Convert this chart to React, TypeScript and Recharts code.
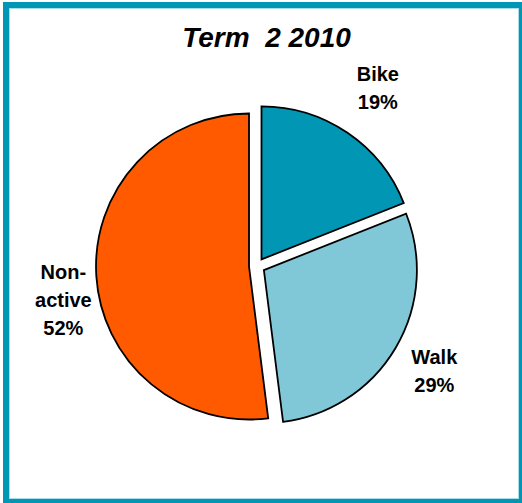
import { PieChart, Pie, Cell, Sector } from 'recharts';

// Term 2 2010 travel mode split
const modes = ['Bike', 'Walk', 'Non-active'];
const shares = [19, 29, 52];
const colors = ['#0096B4', '#80C8D8', '#FF5A00'];

// label placement (distance from pie centre, extra vertical nudge)
const labelRadius = [215, 206, 194];
const labelNudge = [0, 0, 22];

const EXPLODE = 8;
const RAD = Math.PI / 180;

const data = modes.map((name, i) => ({ name, value: shares[i] }));

const ExplodedSlice = (props: any) => {
  const { cx, cy, midAngle, innerRadius, outerRadius, startAngle, endAngle, fill } = props;
  const dx = EXPLODE * Math.cos(-midAngle * RAD);
  const dy = EXPLODE * Math.sin(-midAngle * RAD);
  return (
    <Sector
      cx={cx + dx}
      cy={cy + dy}
      innerRadius={innerRadius}
      outerRadius={outerRadius}
      startAngle={startAngle}
      endAngle={endAngle}
      fill={fill}
      stroke="#000"
      strokeWidth={1.8}
    />
  );
};

const renderLabel = (props: any) => {
  const { cx, cy, midAngle, index, name, value } = props;
  const r = labelRadius[index];
  const x = cx + r * Math.cos(-midAngle * RAD);
  const y = cy + r * Math.sin(-midAngle * RAD) + labelNudge[index];
  const lines = [...String(name).replace('-', '-\n').split('\n'), `${value}%`];
  const lh = 28;
  const top = y - ((lines.length - 1) * lh) / 2 + 7;
  return (
    <text
      x={x}
      y={top}
      textAnchor="middle"
      fill="#000"
      style={{ fontFamily: '"Liberation Sans", Arial, sans-serif', fontWeight: 700, fontSize: 20 }}
    >
      {lines.map((t, i) => (
        <tspan key={i} x={x} y={top + i * lh}>
          {t}
        </tspan>
      ))}
    </text>
  );
};

export default function App() {
  return (
    <div style={{ position: 'absolute', left: 0, top: 0, width: 522, height: 503, background: '#fff', overflow: 'hidden' }}>
      <div
        style={{
          position: 'absolute',
          left: 3,
          top: 2,
          width: 522,
          height: 503,
          boxSizing: 'border-box',
          border: '6px solid #0096B4',
          boxShadow: 'inset 0 0 0 1px #A8DDEA',
        }}
      />
      <div
        style={{
          position: 'absolute',
          left: 0,
          top: 22,
          width: 533,
          textAlign: 'center',
          fontFamily: '"Liberation Sans", Arial, sans-serif',
          fontWeight: 700,
          fontStyle: 'italic',
          fontSize: 28,
          lineHeight: '32px',
          whiteSpace: 'pre',
          color: '#000',
        }}
      >
        {'Term  2 2010'}
      </div>
      <div style={{ position: 'absolute', left: 0, top: 0 }}>
        <PieChart width={522} height={503} margin={{ top: 0, right: 0, bottom: 0, left: 0 }}>
          <Pie
            data={data}
            dataKey="value"
            nameKey="name"
            cx={257}
            cy={266}
            outerRadius={153}
            startAngle={90}
            endAngle={-270}
            isAnimationActive={false}
            shape={ExplodedSlice}
            activeShape={ExplodedSlice}
            label={renderLabel}
            labelLine={false}
          >
            {data.map((d, i) => (
              <Cell key={d.name} fill={colors[i]} />
            ))}
          </Pie>
        </PieChart>
      </div>
    </div>
  );
}
